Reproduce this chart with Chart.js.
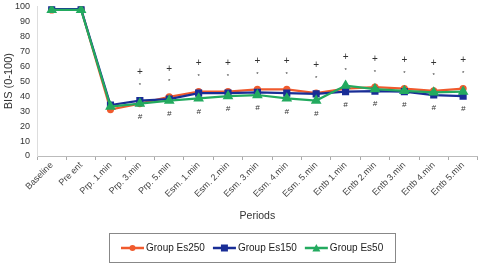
<!DOCTYPE html>
<html>
<head>
<meta charset="utf-8">
<script src="https://cdn.jsdelivr.net/npm/chart.js@4"></script>
<style>
  html, body { margin: 0; padding: 0; background: #fff; }
  #wrap { width: 484px; height: 269px; }
</style>
</head>
<body>
<div id="wrap"><canvas id="mycanvas"></canvas></div>
<script>
var periods = ['Baseline', 'Pre ent', 'Prp. 1.min', 'Prp. 3.min', 'Prp. 5.min', 'Esm. 1.min', 'Esm. 2.min',
  'Esm. 3.min', 'Esm. 4.min', 'Esm. 5.min', 'Entb 1.min', 'Entb 2.min', 'Entb 3.min', 'Entb 4.min', 'Entb 5.min'];
var es250 = [97.5, 98, 31, 35, 39.5, 43, 43, 44.5, 44.5, 42, 45, 46, 45, 43.5, 45];
var es150 = [98, 98, 34, 37, 38, 42, 42, 42.5, 42, 41.5, 43, 43.3, 43, 40.7, 40];
var es50 = [97.5, 97.5, 33, 35, 37, 38.5, 40, 40.7, 38.5, 37, 47, 44.7, 43.5, 42.5, 43];
var plusMarks = ['', '', '', '+', '+', '+', '+', '+', '+', '+', '+', '+', '+', '+', '+'];
var starMarks = ['', '', '', '*', '*', '*', '*', '*', '*', '*', '*', '*', '*', '*', '*'];
var hashMarks = ['', '', '', '#', '#', '#', '#', '#', '#', '#', '#', '#', '#', '#', '#'];
var yTicks = [0, 10, 20, 30, 40, 50, 60, 70, 80, 90, 100];

var orange = 'rgb(240, 90, 45)';
var blue = 'rgb(25, 45, 150)';
var green = 'rgb(35, 170, 95)';
var font = '"Liberation Sans", Arial, sans-serif';

// small line + marker symbol, used in the legend
function drawIcon(g, x, y, color, style) {
  g.strokeStyle = color; g.fillStyle = color; g.lineWidth = 2.5;
  g.beginPath(); g.moveTo(x, y); g.lineTo(x + 23, y); g.stroke();
  var cx = x + 11.5;
  g.beginPath();
  if (style == 'rect') { g.rect(cx - 3.5, y - 3.5, 7, 7); }
  else if (style == 'triangle') { g.moveTo(cx, y - 4); g.lineTo(cx + 4, y + 3.5); g.lineTo(cx - 4, y + 3.5); g.closePath(); }
  else { g.arc(cx, y, 3, 0, Math.PI * 2); }
  g.fill();
}

var marksPlugin = {
  id: 'marks',
  afterDatasetsDraw: function(chart) {
    var ctx = chart.ctx;
    var xs = chart.scales.x, ys = chart.scales.y;
    ctx.save();
    ctx.fillStyle = '#333';
    ctx.textAlign = 'center';
    ctx.textBaseline = 'middle';
    for (var i = 0; i < periods.length; i++) {
      var hi = Math.max(es250[i], es150[i], es50[i]);
      var lo = Math.min(es250[i], es150[i], es50[i]);
      var x = xs.getPixelForValue(i);
      var yh = ys.getPixelForValue(hi);
      var yl = ys.getPixelForValue(lo);
      ctx.font = '10px ' + font;
      if (plusMarks[i]) ctx.fillText(plusMarks[i], x, yh - 28);
      ctx.font = '6px ' + font;
      if (starMarks[i]) ctx.fillText(starMarks[i], x, yh - 15);
      ctx.font = 'italic 8px ' + font;
      if (hashMarks[i]) ctx.fillText(hashMarks[i], x, yl + 13);
    }
    ctx.restore();
  },
  afterDraw: function(chart) {
    // legend with a frame, under the axis title
    var ctx = chart.ctx;
    var sets = chart.data.datasets;
    ctx.save();
    ctx.font = '10px ' + font;
    var widths = sets.map(function(d) { return 23 + 2 + ctx.measureText(d.label).width; });
    var total = widths.reduce(function(a, b) { return a + b; }, 0) + 8 * (sets.length - 1);
    var x = Math.round(252 - total / 2);
    var cy = 248;
    ctx.strokeStyle = '#888';
    ctx.lineWidth = 1;
    ctx.strokeRect(x - 12 + 0.5, 233.5, Math.round(total + 24), 29);
    ctx.textBaseline = 'middle';
    ctx.textAlign = 'left';
    sets.forEach(function(d, i) {
      drawIcon(ctx, x, cy, d.borderColor, d.pointStyle);
      ctx.fillStyle = '#222';
      ctx.fillText(d.label, x + 25, cy + 0.5);
      x += widths[i] + 8;
    });
    ctx.restore();
  }
};

var ctx = document.getElementById('mycanvas');
var chart = new Chart(ctx, {
  type: 'line',
  data: {
    labels: periods,
    datasets: [
      { label: 'Group Es250', data: es250, borderColor: orange, backgroundColor: orange, pointStyle: 'circle',
        pointRadius: 2.5, borderWidth: 2.2, order: 3 },
      { label: 'Group Es150', data: es150, borderColor: blue, backgroundColor: blue, pointStyle: 'rect',
        pointRadius: 3.5, borderWidth: 2.2, order: 2 },
      { label: 'Group Es50', data: es50, borderColor: green, backgroundColor: green, pointStyle: 'triangle',
        pointRadius: 4, borderWidth: 2.2, order: 1 }
    ]
  },
  options: {
    responsive: true,
    maintainAspectRatio: false,
    animation: false,
    layout: { padding: { top: 6, right: 3, left: 0, bottom: 37 } },
    scales: {
      x: {
        offset: true,
        grid: { display: true, offset: true, drawOnChartArea: false, tickLength: 4, color: '#aaa' },
        border: { color: '#bbb' },
        ticks: { minRotation: 45, maxRotation: 45, autoSkip: false, color: '#444', padding: 0,
          font: { size: 9, family: font } },
        title: { display: true, text: 'Periods', color: '#333', padding: { top: 0, bottom: 10 },
          font: { size: 10.5, family: font } },
        afterFit: function(s) { s.height = 76; s.paddingLeft = 0; s.paddingRight = 0; }
      },
      y: {
        min: 0, max: 100,
        afterBuildTicks: function(s) { s.ticks = yTicks.map(function(v) { return { value: v }; }); },
        grid: { display: true, drawOnChartArea: false, drawTicks: false },
        border: { display: true, color: '#ddd' },
        ticks: { color: '#333', padding: 7, font: { size: 9, family: font } },
        title: { display: true, text: 'BIS (0-100)', color: '#333', padding: { top: 2, bottom: 0 },
          font: { size: 11, family: font } },
        afterFit: function(s) { s.width = 37; s.paddingTop = 0; s.paddingBottom = 0; }
      }
    },
    plugins: {
      tooltip: { enabled: false },
      legend: { display: false }
    }
  },
  plugins: [marksPlugin]
});
</script>
</body>
</html>
